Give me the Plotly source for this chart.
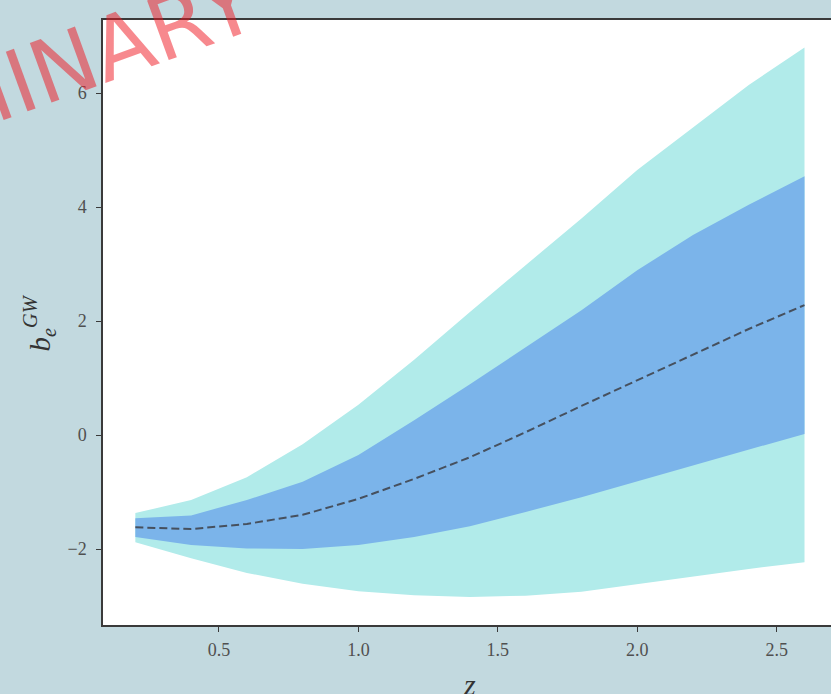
import plotly.graph_objects as go

z = [0.2, 0.4, 0.6, 0.8, 1.0, 1.2, 1.4, 1.6, 1.8, 2.0, 2.2, 2.4, 2.6]
outer_upper = [-1.37, -1.14, -0.74, -0.16, 0.53, 1.32, 2.16, 2.98, 3.80, 4.65, 5.39, 6.14, 6.80]
inner_upper = [-1.46, -1.41, -1.14, -0.82, -0.35, 0.26, 0.89, 1.54, 2.19, 2.89, 3.51, 4.04, 4.54]
mean_curve = [-1.62, -1.65, -1.56, -1.40, -1.12, -0.77, -0.39, 0.05, 0.51, 0.96, 1.42, 1.86, 2.28]
inner_lower = [-1.79, -1.93, -1.99, -2.00, -1.93, -1.79, -1.60, -1.35, -1.09, -0.81, -0.54, -0.26, 0.02]
outer_lower = [-1.88, -2.16, -2.42, -2.61, -2.74, -2.81, -2.84, -2.82, -2.75, -2.62, -2.48, -2.35, -2.23]

x_ticks = [0.5, 1.0, 1.5, 2.0, 2.5]
x_tick_labels = ["0.5", "1.0", "1.5", "2.0", "2.5"]
y_ticks = [-2, 0, 2, 4, 6]
y_tick_labels = ["\u22122", "0", "2", "4", "6"]

fig = go.Figure()
fig.add_trace(go.Scatter(
    x=z + z[::-1], y=outer_upper + outer_lower[::-1],
    fill="toself", fillcolor="#b1ebea", line=dict(width=0), mode="lines",
    hoverinfo="skip", showlegend=False))
fig.add_trace(go.Scatter(
    x=z + z[::-1], y=inner_upper + inner_lower[::-1],
    fill="toself", fillcolor="#7bb4ea", line=dict(width=0), mode="lines",
    hoverinfo="skip", showlegend=False))
fig.add_trace(go.Scatter(
    x=z, y=mean_curve, mode="lines",
    line=dict(color="#46505e", width=2, dash="8px,4px"), showlegend=False))

tickfont = dict(family="Liberation Serif", size=18, color="#505050")
fig.update_layout(
    width=831, height=694,
    margin=dict(l=103, r=0, t=20, b=69),
    paper_bgcolor="#c2d9df", plot_bgcolor="#ffffff",
    xaxis=dict(range=[0.084, 2.695], tickvals=x_ticks, ticktext=x_tick_labels,
               showgrid=False, zeroline=False, showline=True, linecolor="#3a3a3a",
               linewidth=1.5, mirror=True, ticks="outside", ticklen=5,
               tickcolor="#3a3a3a", tickfont=tickfont, ticklabelstandoff=3),
    yaxis=dict(range=[-3.333, 7.281], tickvals=y_ticks, ticktext=y_tick_labels,
               showgrid=False, zeroline=False, showline=True, linecolor="#3a3a3a",
               linewidth=1.5, ticks="outside", ticklen=5,
               tickcolor="#3a3a3a", tickfont=tickfont, ticklabelstandoff=6),
    annotations=[
        dict(text="<i>z</i>", xref="paper", yref="paper", x=0.504, y=-0.098,
             xanchor="center", yanchor="middle", showarrow=False,
             font=dict(family="Liberation Serif", size=30, color="#333333")),
        dict(text="<i>b</i><sub><i>e</i></sub><sup><i>GW</i></sup>", xref="paper", yref="paper",
             x=-0.088, y=0.50, xanchor="center", yanchor="middle", textangle=-90,
             showarrow=False,
             font=dict(family="Liberation Serif", size=29, color="#333333")),
        dict(text="PRELIMINARY", xref="paper", yref="paper", x=-0.166, y=0.874,
             xanchor="center", yanchor="middle", textangle=-20, showarrow=False,
             font=dict(family="DejaVu Sans", size=87, color="rgba(240,20,30,0.5)")),
    ],
)

fig.write_html("out.html", config={"displayModeBar": False},
               post_script="document.body.style.margin='0';document.body.style.overflow='hidden';")
